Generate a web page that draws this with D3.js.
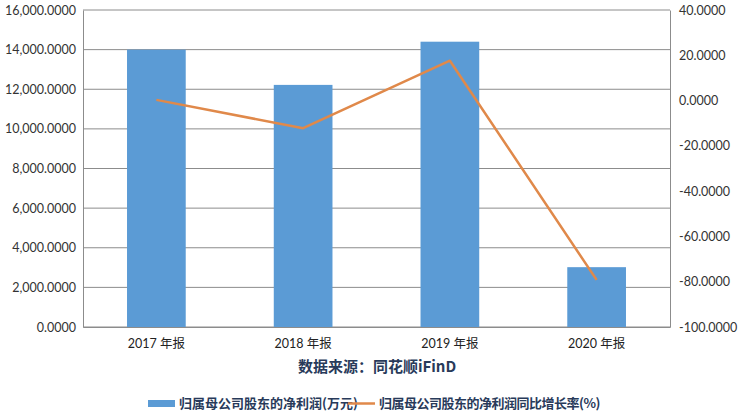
<!DOCTYPE html>
<html lang="zh">
<head>
    <meta charset="UTF-8">
    <title>净利润</title>
    <script src="https://d3js.org/d3.v7.min.js"></script>
    <style>
        body { margin: 0; background: #fff; }
        .tick text { font-family: 'Lato', 'Noto Sans CJK SC', sans-serif; font-size: 12.5px; fill: #333; }
        .cjk { font-family: 'Noto Sans CJK SC', sans-serif; }
    </style>
</head>
<body>
    <div id="chart"></div>
    <script>
        // data
        const categories = ["2017 年报", "2018 年报", "2019 年报", "2020 年报"];
        const netProfit = [14000, 12220, 14400, 3020];      // 万元
        const growthRate = [0.3, -12.2, 17.6, -79.2];       // %
        const leftTicks = [0, 2000, 4000, 6000, 8000, 10000, 12000, 14000, 16000];
        const rightTicks = [-100, -80, -60, -40, -20, 0, 20, 40];
        const seriesNames = ["归属母公司股东的净利润(万元)", "归属母公司股东的净利润同比增长率(%)"];
        const sourceText = "数据来源：同花顺iFinD";

        const W = 742, H = 420;
        const margin = {top: 10, right: 72, bottom: 93, left: 83},
            width = W - margin.left - margin.right,
            height = H - margin.top - margin.bottom;

        const svg = d3.select("#chart")
            .append("svg")
            .attr("width", W)
            .attr("height", H);
        const g = svg.append("g")
            .attr("transform", `translate(${margin.left},${margin.top})`);

        const x = d3.scaleBand()
            .domain(categories)
            .range([0, width])
            .paddingInner(0.6)
            .paddingOuter(0.3);
        const yL = d3.scaleLinear().domain([0, 16000]).range([height, 0]);
        const yR = d3.scaleLinear().domain([-100, 40]).range([height, 0]);

        // plain hyphen for negatives, like the original
        const fmt = d3.formatLocale({decimal: ".", thousands: ",", grouping: [3], currency: ["", ""], minus: "-"})
            .format(",.4f");

        // grid lines
        g.selectAll(".grid")
            .data(leftTicks)
            .join("line")
            .attr("class", "grid")
            .attr("x1", 0).attr("x2", width)
            .attr("y1", d => yL(d)).attr("y2", d => yL(d))
            .attr("stroke", "#8c8c8c").attr("stroke-width", 1);

        // left axis
        const axL = g.append("g")
            .call(d3.axisLeft(yL).tickValues(leftTicks).tickFormat(fmt).tickSize(0).tickPadding(7));
        axL.select(".domain").attr("stroke", "#8c8c8c");

        // right axis
        const axR = g.append("g")
            .attr("transform", `translate(${width},0)`)
            .call(d3.axisRight(yR).tickValues(rightTicks).tickFormat(fmt).tickSize(0).tickPadding(9));
        axR.select(".domain").attr("stroke", "#8c8c8c");

        // bars
        g.selectAll(".bar")
            .data(categories)
            .join("rect")
            .attr("class", "bar")
            .attr("x", d => x(d))
            .attr("width", x.bandwidth())
            .attr("y", (d, i) => yL(netProfit[i]))
            .attr("height", (d, i) => height - yL(netProfit[i]))
            .attr("fill", "#5b9bd5");

        // bottom axis
        const axB = g.append("g")
            .attr("transform", `translate(0,${height})`)
            .call(d3.axisBottom(x).tickSize(0).tickPadding(12));
        axB.select(".domain").attr("stroke", "#8c8c8c");
        axB.selectAll(".tick text").attr("class", "cjk").style("font-size", "12.5px").style("fill", "#222");

        // growth line
        const line = d3.line()
            .x((d, i) => x(categories[i]) + x.bandwidth() / 2)
            .y(d => yR(d));
        g.append("path")
            .datum(growthRate)
            .attr("d", line)
            .attr("fill", "none")
            .attr("stroke", "#e0894a")
            .attr("stroke-width", 2.5)
            .attr("stroke-linejoin", "round");

        // source
        svg.append("text")
            .attr("class", "cjk")
            .attr("x", 377).attr("y", 372)
            .attr("text-anchor", "middle")
            .style("font-size", "15px")
            .style("font-weight", "bold")
            .style("fill", "#283a5a")
            .text(sourceText);

        // legend
        const lg = svg.append("g");
        lg.append("rect").attr("x", 148).attr("y", 400).attr("width", 27).attr("height", 7).attr("fill", "#5b9bd5");
        lg.append("text").attr("class", "cjk").attr("x", 179).attr("y", 408)
            .style("font-size", "13px").style("font-weight", "bold").style("fill", "#283a5a")
            .text(seriesNames[0]);
        lg.append("line").attr("x1", 348).attr("x2", 375).attr("y1", 403.5).attr("y2", 403.5)
            .attr("stroke", "#e0894a").attr("stroke-width", 2.5);
        lg.append("text").attr("class", "cjk").attr("x", 379).attr("y", 408)
            .style("font-size", "13px").style("font-weight", "bold").style("fill", "#283a5a")
            .style("letter-spacing", "-0.5px")
            .text(seriesNames[1]);
    </script>
</body>
</html>
